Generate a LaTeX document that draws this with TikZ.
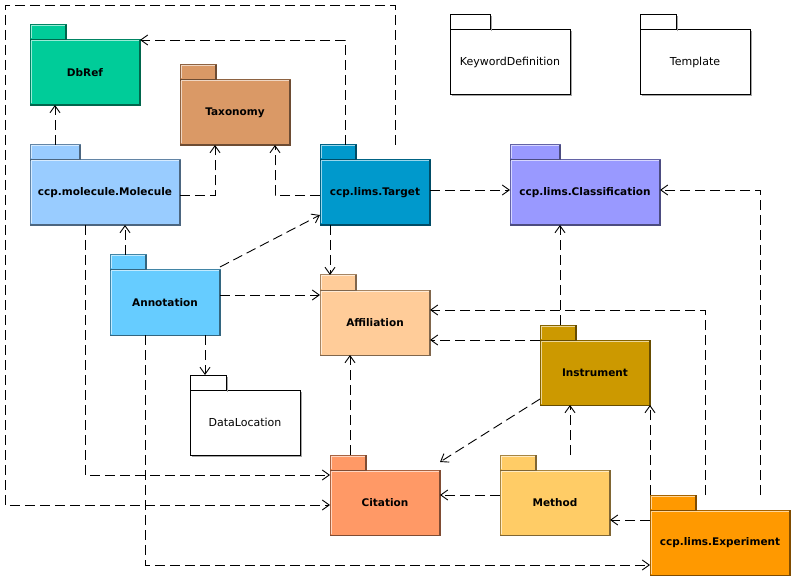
\documentclass[tikz,border=0pt]{standalone}
\usepackage{fontspec}
\setmainfont{DejaVu Sans}
\usetikzlibrary{arrows.meta,calc}

% package colours
\definecolor{cDbRef}{HTML}{00CC99}
\definecolor{cTaxonomy}{HTML}{DA9966}
\definecolor{cMolecule}{HTML}{99CCFF}
\definecolor{cTarget}{HTML}{0099CC}
\definecolor{cClassif}{HTML}{9999FF}
\definecolor{cAnnotation}{HTML}{66CCFF}
\definecolor{cAffiliation}{HTML}{FFCC99}
\definecolor{cInstrument}{HTML}{CC9900}
\definecolor{cCitation}{HTML}{FF9966}
\definecolor{cMethod}{HTML}{FFCC66}
\definecolor{cExperiment}{HTML}{FF9900}

\tikzset{
  pkgbase/.style={rectangle, inner sep=0pt, outer sep=0pt, line width=1pt},
  tabbox/.style={pkgbase, minimum height=15pt},
  bodybox/.style={pkgbase, minimum height=65pt},
  boldlabel/.style={font=\fontsize{10.5}{12}\selectfont\bfseries},
  plainlabel/.style={font=\fontsize{11}{13}\selectfont},
  dep/.style={line width=0.9pt, dash pattern=on 10pt off 5pt,
              -{Straight Barb[length=7pt,width=10pt,line width=0.9pt]}},
}

% bevelled edges of one rectangle: light top/left, dark bottom/right
\newcommand\bevel[2]{%
  \draw[#2!40!white, line width=1pt]
    ([shift={(1pt,1.5pt)}]#1.south west) |- ([shift={(-1.5pt,-1pt)}]#1.north east);
  \draw[#2!50!black, line width=1.6pt]
    ([shift={(0.2pt,-0.3pt)}]#1.south west) -| ([shift={(-0.3pt,-0.2pt)}]#1.north east);
}
% coloured package: name, x, y of tab top, tab width, body width, colour, label
\newcommand\colpkg[7]{%
  \node[tabbox, fill=#6, draw=#6!65!black, minimum width=#4pt, anchor=north west]
    (#1-tab) at (#2,#3) {};
  \node[bodybox, boldlabel, fill=#6, draw=#6!65!black, minimum width=#5pt, anchor=north west]
    (#1) at (#2,#3+15) {#7};
  \bevel{#1-tab}{#6}
  \bevel{#1}{#6}
}
% plain package: name, x, y of tab top, tab width, body width, label
\newcommand\plainpkg[6]{%
  \node[tabbox, fill=white, draw=black, minimum width=#4pt, anchor=north west]
    (#1-tab) at (#2,#3) {};
  \node[bodybox, plainlabel, fill=white, draw=black, minimum width=#5pt, anchor=north west]
    (#1) at (#2,#3+15) {#6};
  \draw[black!35, line width=1pt]
    ([shift={(1.5pt,-1pt)}]#1.south west) -| ([shift={(1pt,-1.5pt)}]#1.north east);
  \draw[black!35, line width=1pt]
    ([shift={(1pt,-1.5pt)}]#1-tab.south east) -- ([shift={(1pt,-1.5pt)}]#1-tab.north east);
}

\begin{document}
\begin{tikzpicture}[x=1pt, y=-1pt]
  \useasboundingbox[fill=white] (0,0) rectangle (800,585);

  % packages
  \colpkg{dbref}{30}{25}{36}{110}{cDbRef}{DbRef}
  \colpkg{taxonomy}{180}{65}{36}{110}{cTaxonomy}{Taxonomy}
  \colpkg{molecule}{30}{145}{50}{150}{cMolecule}{ccp.molecule.Molecule}
  \colpkg{target}{320}{145}{36}{110}{cTarget}{ccp.lims.Target}
  \colpkg{classif}{510}{145}{50}{150}{cClassif}{ccp.lims.Classification}
  \plainpkg{keyword}{450}{15}{40}{120}{KeywordDefinition}
  \plainpkg{template}{640}{15}{36}{110}{Template}
  \colpkg{annotation}{110}{255}{36}{110}{cAnnotation}{Annotation}
  \colpkg{affiliation}{320}{275}{36}{110}{cAffiliation}{Affiliation}
  \plainpkg{datalocation}{190}{375}{36}{110}{DataLocation}
  \colpkg{instrument}{540}{325}{36}{110}{cInstrument}{Instrument}
  \colpkg{citation}{330}{455}{36}{110}{cCitation}{Citation}
  \colpkg{method}{500}{455}{36}{110}{cMethod}{Method}
  \colpkg{experiment}{650}{495}{46}{140}{cExperiment}{ccp.lims.Experiment}

  \coordinate (loopcorner) at (5,5);

  % dependencies
  \draw[dep] ([xshift=25pt]molecule-tab.north west) -- ([xshift=25pt]dbref.south west);
  \draw[dep] ([yshift=-3pt]molecule.east) -| ([xshift=35pt]taxonomy.south west);
  \draw[dep] ([yshift=-3pt]target.west) -| ([xshift=95pt]taxonomy.south west);
  \draw[dep] ([xshift=25pt]target-tab.north west) |- (dbref.north east);
  \draw[dep] ([xshift=75pt]target-tab.north west) |- (loopcorner)
             |- ([yshift=-2.5pt]citation.west);
  \draw[dep] ([xshift=55pt]molecule.south west) |- ([yshift=-5pt]citation.north west);
  \draw[dep] ([xshift=15pt]annotation-tab.north west) -- ([xshift=95pt]molecule.south west);
  \draw[dep] ([yshift=3pt]annotation.north east) -- ([yshift=10pt]target.south west);
  \draw[dep] ([yshift=-25pt]annotation.north east) -- ([yshift=-5pt]affiliation.north west);
  \draw[dep] ([xshift=95pt]annotation.south west) -- ([xshift=15pt]datalocation-tab.north west);
  \draw[dep] ([xshift=35pt]annotation.south west) |- ([yshift=10pt]experiment.south west);
  \draw[dep] ([xshift=10pt]target.south west) -- ([xshift=10pt]affiliation-tab.north west);
  \draw[dep] ([yshift=2.5pt]target.east) -- ([yshift=2.5pt]classif.west);
  \draw[dep] ([xshift=110pt]experiment-tab.north west) |- ([yshift=2.5pt]classif.east);
  \draw[dep] ([xshift=20pt]instrument-tab.north west) -- ([xshift=50pt]classif.south west);
  \draw[dep] ([xshift=55pt]experiment-tab.north west) |- ([yshift=-20pt]affiliation.north east);
  \draw[dep] (instrument.north west) -- (affiliation.east |- instrument.north west);
  \draw[dep] ([yshift=6pt]instrument.south west) -- ([yshift=8pt]citation.north east);
  \draw[dep] ([xshift=20pt]citation-tab.north west) -- ([xshift=30pt]affiliation.south west);
  \draw[dep] ([xshift=70pt]method-tab.north west) -- ([xshift=30pt]instrument.south west);
  \draw[dep] (experiment-tab.north west) -- (instrument.south east);
  \draw[dep] ([yshift=-25pt]method.north west) -- ([yshift=-25pt]citation.north east);
  \draw[dep] ([yshift=-10pt]experiment.north west) -- ([yshift=-50pt]method.north east);
\end{tikzpicture}
\end{document}
